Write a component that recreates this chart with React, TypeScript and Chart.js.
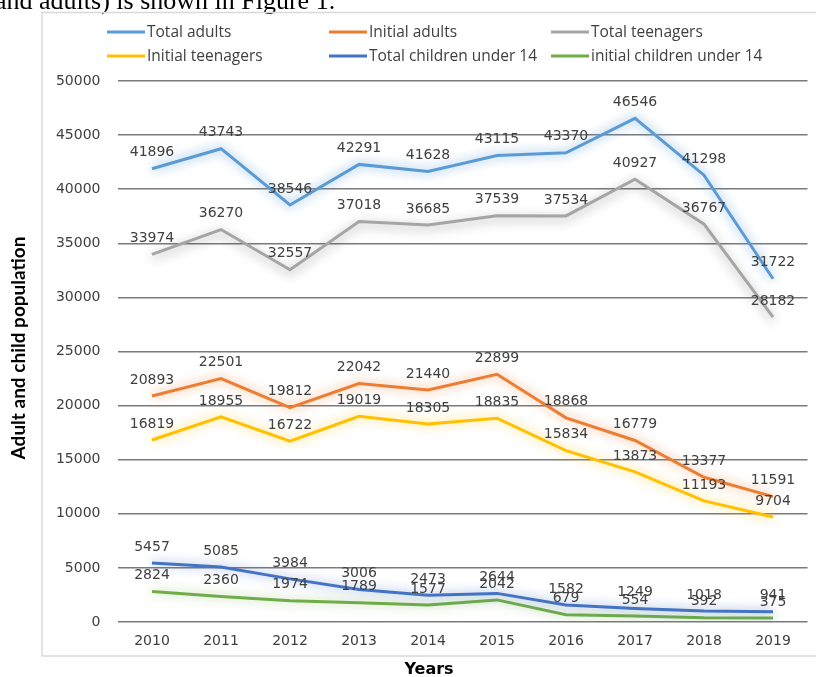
import React, { useEffect, useRef } from "react";
import { Chart, registerables } from "chart.js";

Chart.register(...registerables);

const years = ["2010", "2011", "2012", "2013", "2014", "2015", "2016", "2017", "2018", "2019"];
const totalAdults = [41896, 43743, 38546, 42291, 41628, 43115, 43370, 46546, 41298, 31722];
const initialAdults = [20893, 22501, 19812, 22042, 21440, 22899, 18868, 16779, 13377, 11591];
const totalTeenagers = [33974, 36270, 32557, 37018, 36685, 37539, 37534, 40927, 36767, 28182];
const initialTeenagers = [16819, 18955, 16722, 19019, 18305, 18835, 15834, 13873, 11193, 9704];
const totalChildren = [5457, 5085, 3984, 3006, 2473, 2644, 1582, 1249, 1018, 941];
const initialChildren = [2824, 2360, 1974, 1789, 1577, 2042, 679, 554, 392, 375];

const seriesNames = [
  "Total adults",
  "Initial adults",
  "Total teenagers",
  "Initial teenagers",
  "Total children under 14",
  "initial children under 14",
];
const seriesColors = ["#5B9BD5", "#ED7D31", "#A5A5A5", "#FFC000", "#4472C4", "#70AD47"];
const glowColors = [
  "rgba(91,155,213,0.85)",
  "rgba(237,125,49,0.7)",
  "rgba(50,50,50,0.45)",
  "rgba(255,192,0,0.7)",
  "rgba(68,114,196,0.65)",
  "rgba(112,173,71,0.55)",
];
const seriesValues = [totalAdults, initialAdults, totalTeenagers, initialTeenagers, totalChildren, initialChildren];

const yMin = 0;
const yMax = 50000;
const yStep = 5000;

const yTitle = "Adult and child population";
const xTitle = "Years";
const pageText = "and adults) is shown in Figure 1.";

const decorPlugin = {
  id: "decor",
  beforeDraw(chart: any) {
    const ctx = chart.ctx;
    ctx.save();
    ctx.fillStyle = "#ffffff";
    ctx.fillRect(0, 0, chart.width, chart.height);
    // document text line
    ctx.fillStyle = "#000000";
    ctx.font = '26px "Liberation Serif"';
    ctx.textAlign = "left";
    ctx.textBaseline = "alphabetic";
    ctx.fillText(pageText, -5, 9);
    // chart frame
    ctx.strokeStyle = "#d9d9d9";
    ctx.lineWidth = 1.5;
    ctx.strokeRect(42, 12.5, 800, 643.5);
    ctx.restore();
  },
  afterDraw(chart: any) {
    const ctx = chart.ctx;
    ctx.save();
    // legend
    const cols = [107, 329, 551];
    const rows = [32, 56];
    ctx.font = '15.5px "Open Sans"';
    ctx.textBaseline = "middle";
    ctx.textAlign = "left";
    chart.data.datasets.forEach((ds: any, i: number) => {
      const x = cols[i % 3];
      const y = rows[Math.floor(i / 3)];
      ctx.strokeStyle = ds.borderColor;
      ctx.lineWidth = 3;
      ctx.beginPath();
      ctx.moveTo(x, y);
      ctx.lineTo(x + 38, y);
      ctx.stroke();
      ctx.fillStyle = "#404040";
      ctx.fillText(ds.label, x + 40, y + 0.5);
    });
    // y title
    ctx.fillStyle = "#000000";
    ctx.font = 'bold 19px "Lato"';
    ctx.textAlign = "center";
    ctx.translate(19, 348);
    ctx.rotate(-Math.PI / 2);
    ctx.fillText(yTitle, 0, 0);
    ctx.setTransform(1, 0, 0, 1, 0, 0);
    // x title
    ctx.font = 'bold 16px "DejaVu Sans"';
    ctx.fillText(xTitle, 429, 670);
    ctx.restore();
  },
};

const glowPlugin = {
  id: "glow",
  beforeDatasetDraw(chart: any, args: any) {
    const ctx = chart.ctx;
    ctx.save();
    ctx.shadowColor = glowColors[args.index];
    ctx.shadowBlur = 11;
    ctx.shadowOffsetY = args.index === 2 ? 3 : 0;
  },
  afterDatasetDraw(chart: any) {
    chart.ctx.restore();
  },
};

const labelPlugin = {
  id: "valueLabels",
  afterDatasetsDraw(chart: any) {
    const ctx = chart.ctx;
    ctx.save();
    ctx.font = '14px "DejaVu Sans"';
    ctx.fillStyle = "#404040";
    ctx.textAlign = "center";
    ctx.textBaseline = "middle";
    chart.data.datasets.forEach((ds: any, i: number) => {
      const meta = chart.getDatasetMeta(i);
      meta.data.forEach((pt: any, j: number) => {
        ctx.fillText(String(ds.data[j]), pt.x, pt.y - 16);
      });
    });
    ctx.restore();
  },
};

export default function App() {
  const ref = useRef<HTMLCanvasElement>(null);
  useEffect(() => {
    document.body.style.margin = "0";
    document.body.style.overflow = "hidden";
    const canvas = ref.current!;
    const chart = new Chart(canvas, {
      type: "line",
      data: {
        labels: years,
        datasets: seriesValues.map((vals, i) => ({
          label: seriesNames[i],
          data: vals,
          borderColor: seriesColors[i],
          backgroundColor: seriesColors[i],
          borderWidth: 3,
          pointRadius: 0,
          tension: 0,
          fill: false,
        })),
      },
      options: {
        responsive: false,
        animation: false,
        devicePixelRatio: 1,
        layout: { padding: { top: 81, right: 8.5, bottom: 0, left: 0 } },
        plugins: { legend: { display: false }, tooltip: { enabled: false }, title: { display: false } },
        scales: {
          x: {
            offset: true,
            grid: { display: false, drawTicks: false },
            border: { display: false },
            ticks: { color: "#404040", font: { family: "DejaVu Sans", size: 14 }, padding: 11, maxRotation: 0 },
            afterFit: (s: any) => {
              s.height = 55;
            },
          },
          y: {
            min: yMin,
            max: yMax,
            grid: { color: "#7a7a7a", lineWidth: 1.5, drawTicks: false },
            border: { display: false },
            ticks: {
              stepSize: yStep,
              color: "#404040",
              font: { family: "DejaVu Sans", size: 14 },
              padding: 17,
              callback: (v: any) => String(v),
            },
            afterFit: (s: any) => {
              s.width = 117.5;
            },
          },
        },
      },
      plugins: [decorPlugin, glowPlugin, labelPlugin],
    });
    return () => chart.destroy();
  }, []);
  return <canvas ref={ref} width={816} height={677} style={{ display: "block", width: 816, height: 677 }} />;
}
